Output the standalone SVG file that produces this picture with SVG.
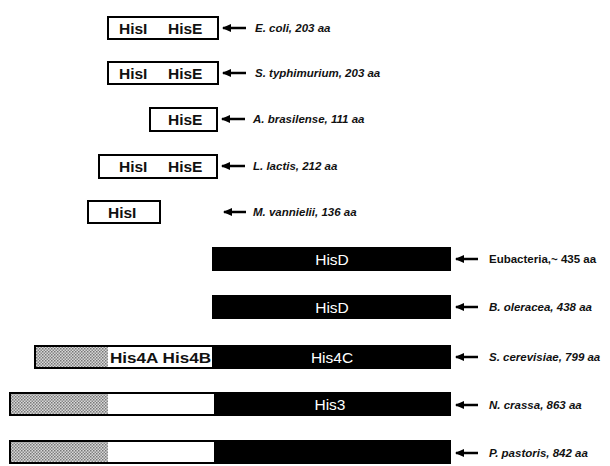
<svg xmlns="http://www.w3.org/2000/svg" width="610" height="466" viewBox="0 0 610 466">
<defs>
<pattern id="stip" width="3" height="3" patternUnits="userSpaceOnUse">
<rect width="3" height="3" fill="#d8d8d8"/>
<rect width="1.5" height="1.5" fill="#777"/>
<rect x="1.5" y="1.5" width="1.5" height="1.5" fill="#888"/>
</pattern>
<marker id="ah" markerWidth="9" markerHeight="8" refX="1" refY="4" orient="auto" markerUnits="userSpaceOnUse">
<path d="M9,0 L0,4 L9,8 Z" fill="#000"/>
</marker>
</defs>
<style>
.box{fill:#fff;stroke:#000;stroke-width:2}
.bar{fill:#000;stroke:#000;stroke-width:2}
.st{fill:url(#stip);stroke:none}
.wh{fill:#fff;stroke:none}
.ol{fill:none;stroke:#000;stroke-width:2}
.bt{font-family:"Liberation Sans",Arial,sans-serif;font-size:15.5px;font-weight:bold;fill:#111}
.wt{font-family:"Liberation Sans",Arial,sans-serif;font-size:15.5px;fill:#fff}
.lb{font-family:"Liberation Sans",Arial,sans-serif;font-size:11.5px;font-weight:bold;font-style:italic;fill:#111}
.lbn{font-family:"Liberation Sans",Arial,sans-serif;font-size:11.5px;font-weight:bold;fill:#111}
.arr{stroke:#000;stroke-width:2.5;fill:none;marker-start:url(#ah)}
</style>
<rect width="610" height="466" fill="#fff"/>

<g id="ecoli">
<rect class="box" x="108" y="17" width="110" height="22"/>
<text class="bt" x="119" y="34">HisI</text>
<text class="bt" x="168" y="34">HisE</text>
<text class="lb" x="255" y="32">E. coli, 203 aa</text>
</g>
<g id="styphimurium">
<rect class="box" x="108" y="62" width="110" height="22"/>
<text class="bt" x="119" y="79">HisI</text>
<text class="bt" x="168" y="79">HisE</text>
<text class="lb" x="255" y="77">S. typhimurium, 203 aa</text>
</g>
<g id="abrasilense">
<rect class="box" x="150" y="108" width="67" height="23"/>
<text class="bt" x="168" y="125">HisE</text>
<text class="lb" x="253" y="123">A. brasilense, 111 aa</text>
</g>
<g id="llactis">
<rect class="box" x="99" y="155" width="118" height="23"/>
<text class="bt" x="119" y="172">HisI</text>
<text class="bt" x="168" y="172">HisE</text>
<text class="lb" x="253" y="170">L. lactis, 212 aa</text>
</g>
<g id="mvannielii">
<rect class="box" x="88" y="201" width="72" height="22"/>
<text class="bt" x="108" y="218">HisI</text>
<text class="lb" x="253" y="216">M. vannielii, 136 aa</text>
</g>
<g id="eubacteria">
<rect class="bar" x="213" y="248" width="237" height="22"/>
<text class="wt" x="332" y="264.5" text-anchor="middle">HisD</text>
<text class="lbn" x="489" y="263">Eubacteria,~ 435 aa</text>
</g>
<g id="boleracea">
<rect class="bar" x="213" y="296" width="237" height="22"/>
<text class="wt" x="332" y="312.5" text-anchor="middle">HisD</text>
<text class="lb" x="489" y="311">B. oleracea, 438 aa</text>
</g>
<g id="scerevisiae">
<rect class="st" x="35" y="346" width="73" height="22"/>
<rect class="wh" x="108" y="346" width="105" height="22"/>
<rect class="bar" x="213" y="346" width="237" height="22"/>
<rect class="ol" x="35" y="346" width="415" height="22"/>
<text class="bt" x="110" y="362.5" textLength="101" lengthAdjust="spacingAndGlyphs">His4A His4B</text>
<text class="wt" x="332" y="362.5" text-anchor="middle">His4C</text>
<text class="lb" x="489" y="361">S. cerevisiae, 799 aa</text>
</g>
<g id="ncrassa">
<rect class="st" x="10" y="393" width="98" height="22"/>
<rect class="wh" x="108" y="393" width="107" height="22"/>
<rect class="bar" x="215" y="393" width="235" height="22"/>
<rect class="ol" x="10" y="393" width="440" height="22"/>
<text class="wt" x="330" y="409.5" text-anchor="middle">His3</text>
<text class="lb" x="489" y="409">N. crassa, 863 aa</text>
</g>
<g id="ppastoris">
<rect class="st" x="10" y="441" width="98" height="22"/>
<rect class="wh" x="108" y="441" width="107" height="22"/>
<rect class="bar" x="215" y="441" width="235" height="22"/>
<rect class="ol" x="10" y="441" width="440" height="22"/>
<text class="lb" x="489" y="457">P. pastoris, 842 aa</text>
</g>

<g id="connectors">
<line class="arr" x1="223" y1="28" x2="246" y2="28"/>
<line class="arr" x1="223" y1="73" x2="246" y2="73"/>
<line class="arr" x1="222" y1="119" x2="245" y2="119"/>
<line class="arr" x1="222" y1="166" x2="245" y2="166"/>
<line class="arr" x1="224" y1="212" x2="246" y2="212"/>
<line class="arr" x1="456" y1="259" x2="478" y2="259"/>
<line class="arr" x1="456" y1="307" x2="478" y2="307"/>
<line class="arr" x1="456" y1="357" x2="478" y2="357"/>
<line class="arr" x1="456" y1="405" x2="478" y2="405"/>
<line class="arr" x1="456" y1="453" x2="478" y2="453"/>
</g>
</svg>
